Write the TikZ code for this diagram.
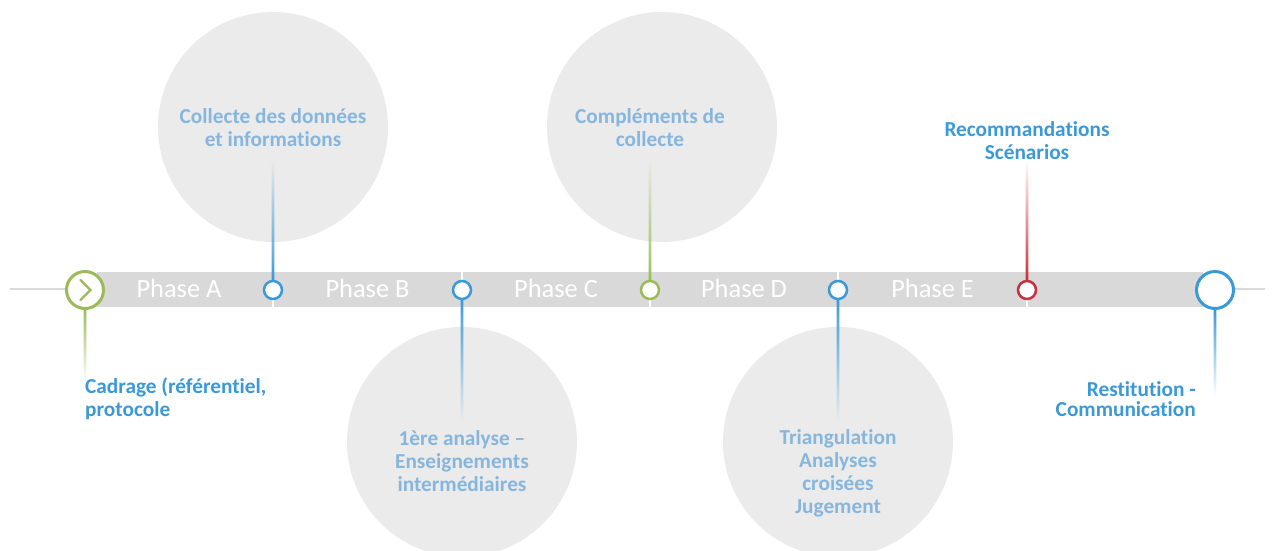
\documentclass[tikz,border=0pt]{standalone}
\usepackage{fontspec}
\setmainfont{Carlito}[Ligatures=NoCommon]
\usetikzlibrary{fadings,calc}

\definecolor{band}{HTML}{D9D9D9}
\definecolor{disc}{HTML}{EBEBEB}
\definecolor{mblue}{HTML}{3A99D8}
\definecolor{mgreen}{HTML}{9BBB59}
\definecolor{mred}{HTML}{C9303E}
\definecolor{softblue}{HTML}{86B6DE}

% connector fades: opaque at the milestone, transparent at the free end
\tikzfading[name=fadeup, bottom color=transparent!0, top color=transparent!100]
\tikzfading[name=fadedown, top color=transparent!0, bottom color=transparent!100]

% thin faded connector: colour, fading, from, to
\newcommand\fadeline[4]{%
  \begin{scope}
    \clip ($(#3)+(-1.3,0)$) rectangle ($(#4)+(1.3,0)$);
    \fill[#1, path fading=#2] ($(#3)+(-50,0)$) rectangle ($(#4)+(50,0)$);
  \end{scope}}

\begin{document}
\begin{tikzpicture}[x=1pt,y=1pt,
  bigdisc/.style={circle, fill=disc, minimum size=230, inner sep=0},
  ms/.style={circle, fill=white, line width=2.5, minimum size=18, inner sep=0},
  endms/.style={circle, fill=white, line width=3, minimum size=37, inner sep=0},
  disctext/.style={text=softblue, font=\bfseries\fontsize{21.3}{23}\selectfont, align=center, inner sep=0},
  outtext/.style={text=mblue, font=\bfseries\fontsize{21.3}{23}\selectfont, inner sep=0},
  phase/.style={text=white, font=\fontsize{26.4}{30}\selectfont, inner sep=0, anchor=base},
]
\useasboundingbox (0,0) rectangle (1279,-550);

% large grey discs
\node[bigdisc] (d1) at (273,-127) {};
\node[bigdisc] (d3) at (662,-127) {};
\node[bigdisc] (d2) at (462,-442) {};
\node[bigdisc] (d4) at (838,-442) {};

% guide line and timeline band
\draw[band, line width=2] (10,-289) -- (1265,-289);
\fill[band] (97,-272) rectangle (1203,-307);
\foreach \x in {273,462,650,838,1027}
  \draw[white, line width=2] (\x,-272) -- (\x,-307);

% phase labels
\node[phase] (pa) at (179,-297.5) {Phase A};
\node[phase] (pb) at (367.5,-297.5) {Phase B};
\node[phase] (pc) at (556,-297.5) {Phase C};
\node[phase] (pd) at (744,-297.5) {Phase D};
\node[phase] (pe) at (932.5,-297.5) {Phase E};

% milestones
\node[endms, draw=mgreen] (m0) at (85,-290) {};
\node[ms, draw=mblue]  (m1) at (273,-290) {};
\node[ms, draw=mblue]  (m2) at (462,-290) {};
\node[ms, draw=mgreen] (m3) at (650,-290) {};
\node[ms, draw=mblue]  (m4) at (838,-290) {};
\node[ms, draw=mred]   (m5) at (1027,-290) {};
\node[endms, draw=mblue] (m6) at (1215,-290) {};

% start chevron
\draw[mgreen, line width=2.2, line cap=round, line join=miter]
  ($(m0)+(-4.5,10)$) -- ($(m0)+(5.5,0)$) -- ($(m0)+(-4.5,-10)$);

% free ends of the connectors
\coordinate (e0) at (85,-382);
\coordinate (e1) at (273,-160);
\coordinate (e2) at (462,-420);
\coordinate (e3) at (650,-160);
\coordinate (e4) at (838,-420);
\coordinate (e5) at (1027,-160);
\coordinate (e6) at (1215,-395);

% connectors
\fadeline{mgreen}{fadedown}{m0.south}{e0}
\fadeline{mblue}{fadeup}{m1.north}{e1}
\fadeline{mblue}{fadedown}{m2.south}{e2}
\fadeline{mgreen}{fadeup}{m3.north}{e3}
\fadeline{mblue}{fadedown}{m4.south}{e4}
\fadeline{mred}{fadeup}{m5.north}{e5}
\fadeline{mblue}{fadedown}{m6.south}{e6}

% texts
\node[disctext] (t1) at (273,-128) {Collecte des données\\et informations};
\node[disctext] (t3) at (650,-128) {Compléments de\\collecte};
\node[disctext] (t2) at (462,-461) {1ère analyse –\\Enseignements\\intermédiaires};
\node[disctext] (t4) at (838,-473) {Triangulation\\Analyses\\croisées\\Jugement};
\node[outtext, align=center] (r5) at (1027,-141) {Recommandations\\Scénarios};
\node[outtext, align=left, anchor=west] (r0) at (85,-399) {Cadrage (référentiel,\\protocole};
\node[outtext, align=right, anchor=east, font=\bfseries\fontsize{21.3}{20}\selectfont] (r6) at (1196,-399.5) {Restitution -\\Communication};
\end{tikzpicture}
\end{document}
